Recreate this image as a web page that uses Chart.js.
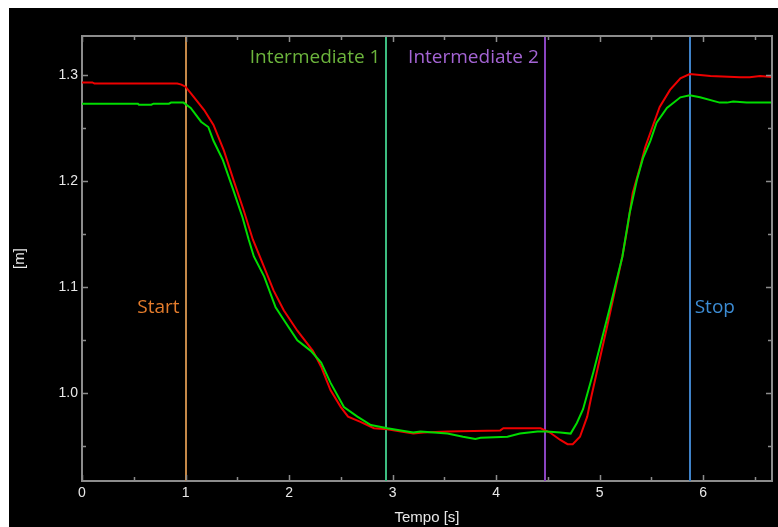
<!DOCTYPE html>
<html>
<head>
<meta charset="utf-8">
<script src="https://cdn.jsdelivr.net/npm/chart.js@4.4.0/dist/chart.umd.min.js"></script>
<style>
    body { margin: 0; background: #fff; }
    #chart { position: absolute; left: 9px; top: 8px; background: #000; }
</style>
</head>
<body>
<canvas id="chart" width="769" height="519"></canvas>
<script>
// measured series (time in s, position in m)
const redTimes = [0, 0.10, 0.12, 0.92, 0.96, 1.00, 1.05, 1.18, 1.27, 1.37, 1.47, 1.56, 1.65, 1.73, 1.85, 1.95, 2.08, 2.23, 2.31, 2.40, 2.50, 2.57, 2.69, 2.82, 2.95, 3.08, 3.20, 3.30, 3.53, 4.04, 4.07, 4.23, 4.43, 4.52, 4.62, 4.69, 4.74, 4.81, 4.88, 4.92, 5.07, 5.22, 5.27, 5.32, 5.39, 5.44, 5.51, 5.58, 5.68, 5.78, 5.87, 6.07, 6.36, 6.45, 6.55, 6.67];
const redValues = [1.293, 1.293, 1.292, 1.292, 1.291, 1.289, 1.283, 1.267, 1.253, 1.229, 1.199, 1.173, 1.145, 1.126, 1.097, 1.078, 1.059, 1.040, 1.025, 1.003, 0.987, 0.978, 0.973, 0.967, 0.966, 0.964, 0.962, 0.963, 0.964, 0.965, 0.967, 0.967, 0.967, 0.963, 0.956, 0.952, 0.952, 0.959, 0.978, 0.997, 1.062, 1.129, 1.157, 1.189, 1.213, 1.232, 1.251, 1.270, 1.286, 1.297, 1.301, 1.299, 1.298, 1.298, 1.299, 1.298];

const greenTimes = [0, 0.54, 0.55, 0.67, 0.69, 0.84, 0.86, 0.98, 1.05, 1.15, 1.22, 1.27, 1.36, 1.46, 1.55, 1.61, 1.66, 1.76, 1.87, 1.95, 2.08, 2.21, 2.31, 2.40, 2.53, 2.66, 2.79, 2.95, 3.08, 3.20, 3.27, 3.53, 3.68, 3.80, 3.85, 4.11, 4.23, 4.40, 4.49, 4.62, 4.72, 4.78, 4.84, 4.94, 5.10, 5.22, 5.29, 5.36, 5.42, 5.49, 5.55, 5.65, 5.78, 5.87, 5.97, 6.16, 6.23, 6.29, 6.42, 6.67];
const greenValues = [1.273, 1.273, 1.272, 1.272, 1.273, 1.273, 1.274, 1.274, 1.269, 1.256, 1.251, 1.238, 1.220, 1.192, 1.166, 1.145, 1.129, 1.110, 1.081, 1.069, 1.050, 1.040, 1.029, 1.010, 0.987, 0.978, 0.970, 0.967, 0.965, 0.963, 0.964, 0.962, 0.959, 0.957, 0.958, 0.959, 0.962, 0.964, 0.964, 0.963, 0.962, 0.972, 0.985, 1.020, 1.081, 1.129, 1.170, 1.201, 1.222, 1.238, 1.255, 1.269, 1.279, 1.281, 1.279, 1.274, 1.274, 1.275, 1.274, 1.274];

// event markers
const markerNames = ['Start', 'Intermediate 1', 'Intermediate 2', 'Stop'];
const markerTimes = [1.0, 2.94, 4.47, 5.87];

// axis range
const xMin = 0, xMax = 6.665;
const yMin = 0.9173, yMax = 1.3368;

const axisColor = '#8c8c8c';
const textColor = '#e8e8e8';
const lineColors = ['#c48848', '#3cbc80', '#8a44c0', '#3f82c8'];
const labelColors = ['#e47c2c', '#6cb43c', '#a464d4', '#3c8cd4'];
const labelLevels = [1.081, 1.316, 1.316, 1.081];
const labelSides = ['left', 'left', 'left', 'right'];

const toPoints = (ts, vs) => ts.map((t, i) => ({ x: t, y: vs[i] }));
const isWhole = (v, unit) => Math.abs(v / unit - Math.round(v / unit)) < 1e-6;

const markers = {
    id: 'markers',
    beforeDatasetsDraw(chart) {
        const { ctx, chartArea: a, scales: { x } } = chart;
        ctx.save();
        ctx.lineWidth = 2;
        markerTimes.forEach((t, i) => {
            const px = Math.round(x.getPixelForValue(t));
            ctx.strokeStyle = lineColors[i];
            ctx.beginPath();
            ctx.moveTo(px, a.top);
            ctx.lineTo(px, a.bottom);
            ctx.stroke();
        });
        ctx.restore();
    },
    afterDatasetsDraw(chart) {
        const { ctx, chartArea: a, scales: { x, y } } = chart;
        ctx.save();
        // frame top + right
        ctx.strokeStyle = axisColor;
        ctx.lineWidth = 2;
        ctx.beginPath();
        ctx.moveTo(a.left, a.top);
        ctx.lineTo(a.right, a.top);
        ctx.lineTo(a.right, a.bottom);
        ctx.stroke();
        // inward ticks on all four sides
        ctx.lineWidth = 1.5;
        ctx.beginPath();
        x.ticks.forEach(t => {
            const px = Math.round(x.getPixelForValue(t.value)) + 0.5;
            const len = isWhole(t.value, 1) ? 6 : 4;
            ctx.moveTo(px, a.bottom); ctx.lineTo(px, a.bottom - len);
            ctx.moveTo(px, a.top); ctx.lineTo(px, a.top + len);
        });
        y.ticks.forEach(t => {
            const py = Math.round(y.getPixelForValue(t.value)) + 0.5;
            const len = isWhole(t.value, 0.1) ? 6 : 4;
            ctx.moveTo(a.left, py); ctx.lineTo(a.left + len, py);
            ctx.moveTo(a.right, py); ctx.lineTo(a.right - len, py);
        });
        ctx.stroke();
        // marker labels
        ctx.font = '19px "Open Sans"';
        ctx.textBaseline = 'middle';
        markerNames.forEach((name, i) => {
            const px = x.getPixelForValue(markerTimes[i]);
            const py = y.getPixelForValue(labelLevels[i]);
            ctx.fillStyle = labelColors[i];
            if (labelSides[i] === 'left') {
                ctx.textAlign = 'right';
                ctx.fillText(name, px - 6, py);
            } else {
                ctx.textAlign = 'left';
                ctx.fillText(name, px + 5, py);
            }
        });
        ctx.restore();
    }
};

new Chart(document.getElementById('chart'), {
    type: 'line',
    data: {
        datasets: [{
            label: 'green',
            data: toPoints(greenTimes, greenValues),
            borderColor: '#00dc00',
            borderWidth: 2,
            pointRadius: 0,
            tension: 0
        }, {
            label: 'red',
            data: toPoints(redTimes, redValues),
            borderColor: '#ee0000',
            borderWidth: 2,
            pointRadius: 0,
            tension: 0
        }]
    },
    options: {
        responsive: false,
        animation: false,
        devicePixelRatio: 1,
        layout: { padding: { top: 28, right: 6, left: 0, bottom: 0 } },
        plugins: { legend: { display: false }, tooltip: { enabled: false } },
        scales: {
            x: {
                type: 'linear',
                min: xMin,
                max: xMax,
                afterFit(s) { s.height = 46; },
                border: { display: true, color: axisColor, width: 2 },
                grid: { drawOnChartArea: false, drawTicks: false },
                ticks: {
                    stepSize: 0.5,
                    includeBounds: false,
                    autoSkip: false,
                    maxRotation: 0,
                    padding: 4,
                    color: textColor,
                    font: { family: '"Liberation Sans", Arial', size: 14 },
                    callback: v => isWhole(v, 1) ? String(Math.round(v)) : ''
                },
                title: {
                    display: true,
                    text: 'Tempo [s]',
                    color: textColor,
                    font: { family: '"Liberation Sans", Arial', size: 15 },
                    padding: { top: 0, bottom: 0 }
                }
            },
            y: {
                min: yMin,
                max: yMax,
                afterFit(s) { s.width = 73; },
                border: { display: true, color: axisColor, width: 2 },
                grid: { drawOnChartArea: false, drawTicks: false },
                ticks: {
                    stepSize: 0.05,
                    includeBounds: false,
                    padding: 4,
                    color: textColor,
                    font: { family: '"Liberation Sans", Arial', size: 14 },
                    callback: v => isWhole(v, 0.1) ? v.toFixed(1) : ''
                },
                title: {
                    display: true,
                    text: '[m]',
                    color: textColor,
                    font: { family: '"Liberation Sans", Arial', size: 15 },
                    padding: { top: 2, bottom: 0 }
                }
            }
        }
    },
    plugins: [markers]
});
</script>
</body>
</html>
